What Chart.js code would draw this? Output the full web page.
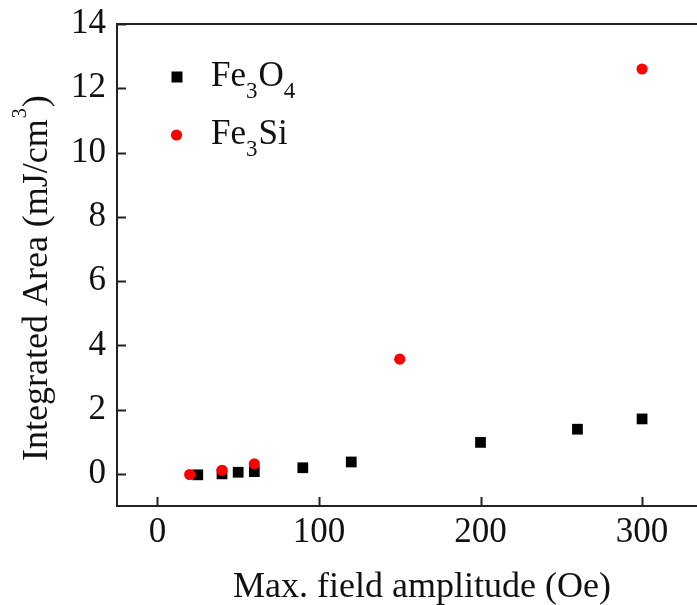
<!DOCTYPE html>
<html>
<head>
<meta charset="utf-8">
<script src="https://cdn.jsdelivr.net/npm/chart.js@4"></script>
<style>
  html, body { margin: 0; padding: 0; background: #fff; }
  #wrap { width: 697px; height: 605px; }
</style>
</head>
<body>
<div id="wrap"><canvas id="chart" width="697" height="605"></canvas></div>
<script>
// data
const fe3o4X = [25, 40, 50, 60, 90, 120, 200, 260, 300];
const fe3o4Y = [-0.03, 0.0, 0.05, 0.07, 0.19, 0.37, 0.98, 1.39, 1.71];
const fe3siX = [20, 40, 60, 150, 300];
const fe3siY = [-0.02, 0.11, 0.31, 3.57, 12.6];
const xTicks = [0, 100, 200, 300];
const yTicks = [0, 2, 4, 6, 8, 10, 12, 14];

const FONT = '"Liberation Serif", "Times New Roman", serif';

// legend entries: text split into [text, sub?] pieces
const legendItems = [
  { parts: [['Fe', false], ['3', true], ['O', false], ['4', true]], style: 'rect', color: '#000' },
  { parts: [['Fe', false], ['3', true], ['Si', false]], style: 'circle', color: '#ff0000' }
];

const toPoints = (xs, ys) => xs.map((x, i) => ({ x: x, y: ys[i] }));

/** inward ticks + top frame line */
const frame = {
  id: 'frame',
  afterDraw(chart) {
    const { ctx, chartArea: a, scales } = chart;
    ctx.save();
    ctx.strokeStyle = '#222';
    ctx.lineWidth = 2;
    ctx.beginPath();
    ctx.moveTo(a.left, a.top);
    ctx.lineTo(chart.width, a.top);
    scales.x.ticks.forEach(t => {
      const px = Math.round(scales.x.getPixelForValue(t.value)) + 0.5;
      ctx.moveTo(px, a.bottom);
      ctx.lineTo(px, a.bottom - 9);
    });
    scales.y.ticks.forEach(t => {
      const py = Math.round(scales.y.getPixelForValue(t.value)) + 0.5;
      ctx.moveTo(a.left, py);
      ctx.lineTo(a.left + 9, py);
    });
    ctx.stroke();
    ctx.restore();
  }
};

/** axis titles with superscript, legend with subscripts */
const labels = {
  id: 'labels',
  afterDraw(chart) {
    const ctx = chart.ctx;
    ctx.save();
    ctx.fillStyle = '#111';
    ctx.textBaseline = 'alphabetic';
    ctx.textAlign = 'left';

    // x title
    ctx.font = '36px ' + FONT;
    ctx.fillText('Max. field amplitude (Oe)', 233, 597);

    // y title, rotated
    ctx.save();
    ctx.translate(47, 461);
    ctx.rotate(-Math.PI / 2);
    ctx.font = '36px ' + FONT;
    let x = 0;
    const main = 'Integrated Area (mJ/cm';
    ctx.fillText(main, x, 0);
    x += ctx.measureText(main).width + 1;
    ctx.font = '20px ' + FONT;
    ctx.fillText('3', x, -21);
    x += ctx.measureText('3').width + 1;
    ctx.font = '36px ' + FONT;
    ctx.fillText(')', x, 0);
    ctx.restore();

    // legend
    legendItems.forEach((item, i) => {
      const cy = 77 + i * 58;
      ctx.fillStyle = item.color;
      if (item.style === 'rect') {
        ctx.fillRect(171.5, cy - 5.5, 11, 11);
      } else {
        ctx.beginPath();
        ctx.arc(176.5, cy, 5.6, 0, Math.PI * 2);
        ctx.fill();
      }
      ctx.fillStyle = '#111';
      let lx = 211;
      const base = cy + 9;
      item.parts.forEach(([txt, sub]) => {
        ctx.font = (sub ? '23px ' : '35px ') + FONT;
        ctx.fillText(txt, lx, sub ? base + 12 : base);
        lx += ctx.measureText(txt).width + (sub ? 1 : 0);
      });
    });
    ctx.restore();
  }
};

new Chart(document.getElementById('chart'), {
  type: 'scatter',
  data: {
    datasets: [
      {
        label: 'Fe3O4',
        data: toPoints(fe3o4X, fe3o4Y),
        pointStyle: 'rect',
        pointRadius: 7.6,
        pointBorderWidth: 0,
        backgroundColor: '#000',
        borderColor: '#000',
        order: 2
      },
      {
        label: 'Fe3Si',
        data: toPoints(fe3siX, fe3siY),
        pointStyle: 'circle',
        pointRadius: 5.6,
        pointBorderWidth: 0,
        backgroundColor: '#ff0000',
        borderColor: '#ff0000',
        order: 1
      }
    ]
  },
  options: {
    responsive: false,
    animation: false,
    layout: { autoPadding: false, padding: { top: 24, right: 0, left: 0, bottom: 0 } },
    plugins: { legend: { display: false }, tooltip: { enabled: false } },
    scales: {
      x: {
        type: 'linear',
        min: -25,
        max: 334,
        afterBuildTicks: s => { s.ticks = xTicks.map(v => ({ value: v })); },
        afterFit: s => { s.height = 99; s.paddingLeft = 0; s.paddingRight = 0; },
        grid: { drawOnChartArea: false, drawTicks: false },
        border: { display: true, color: '#222', width: 2 },
        ticks: { color: '#111', padding: 6, font: { family: FONT, size: 35 } }
      },
      y: {
        type: 'linear',
        min: -1,
        max: 14,
        afterBuildTicks: s => { s.ticks = yTicks.map(v => ({ value: v })); },
        afterFit: s => { s.width = 117; s.paddingTop = 0; s.paddingBottom = 0; },
        grid: { drawOnChartArea: false, drawTicks: false },
        border: { display: true, color: '#222', width: 2 },
        ticks: { color: '#111', padding: 11, font: { family: FONT, size: 35 } }
      }
    }
  },
  plugins: [frame, labels]
});
</script>
</body>
</html>
